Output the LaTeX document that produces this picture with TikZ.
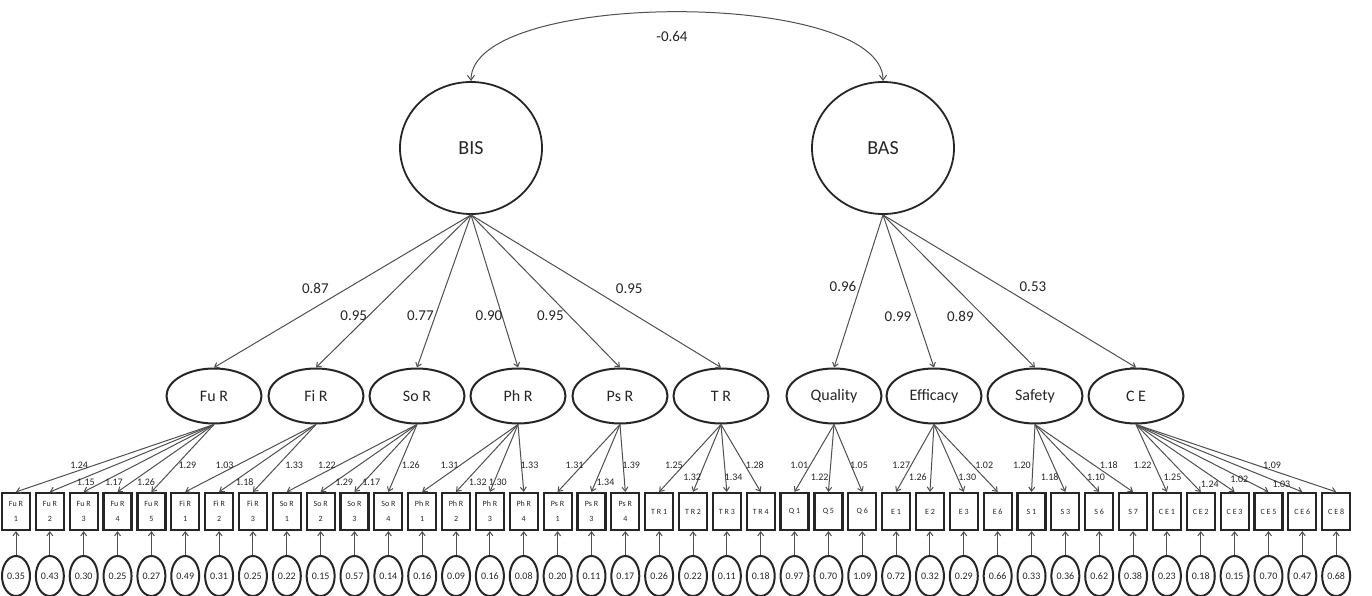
\documentclass[tikz,border=0pt]{standalone}
\usepackage{fontspec}
\setmainfont{Carlito}
\usetikzlibrary{arrows.meta,shapes.geometric}
\definecolor{ink}{HTML}{262626}
\definecolor{edge}{HTML}{505050}

\begin{document}
\begin{tikzpicture}[x=1pt, y=-1pt,
    latent/.style={draw=ink, ellipse, line width=1.8pt, minimum width=142pt,
                   minimum height=132pt, inner sep=0pt, text=ink,
                   font=\fontsize{20}{24}\selectfont},
    factor/.style={draw=ink, ellipse, line width=2pt, minimum width=95pt,
                   minimum height=55pt, inner sep=0pt, text=ink,
                   font=\fontsize{16}{19}\selectfont},
    item/.style={draw=ink, line width=2.2pt, minimum width=28pt,
                 minimum height=37pt, inner sep=0pt, align=center, text=ink,
                 font=\fontsize{8}{15}\selectfont},
    err/.style={draw=ink, ellipse, line width=2pt, minimum width=28pt,
                minimum height=40pt, inner sep=0pt, text=ink,
                font=\fontsize{10}{12}\selectfont},
    arr/.style={-{Straight Barb[length=4pt,width=6pt]}, draw=edge, line width=1pt},
    big/.style={text=ink, inner sep=1pt, font=\fontsize{15}{18}\selectfont},
    sml/.style={text=ink, inner sep=1pt, font=\fontsize{10}{12}\selectfont}
  ]
  \useasboundingbox[fill=white] (0,0) rectangle (1372,596);

  % Latent variables
  \node[latent] (bis) at (471,148) {BIS};
  \node[latent] (bas) at (883,148) {BAS};

  % First-order factors
  \node[factor] (fur)  at (214,396)  {Fu R};
  \node[factor] (fir)  at (316,396)  {Fi R};
  \node[factor] (sor)  at (417,396)  {So R};
  \node[factor] (phr)  at (518,396)  {Ph R};
  \node[factor] (psr)  at (620,396)  {Ps R};
  \node[factor] (tr)   at (721,396)  {T R};
  \node[factor] (qual) at (834,396)  {Quality};
  \node[factor] (effi) at (934,396)  {Efficacy};
  \node[factor] (safe) at (1035,396) {Safety};
  \node[factor] (ce)   at (1136,396) {C E};

  % Observed items
  \foreach \lab [count=\n from 0] in {Fu R\\1, Fu R\\2, Fu R\\3, Fu R\\4,
      Fu R\\5, Fi R\\1, Fi R\\2, Fi R\\3, So R\\1, So R\\2, So R\\3, So R\\4,
      Ph R\\1, Ph R\\2, Ph R\\3, Ph R\\4, Ps R\\1, Ps R\\3, Ps R\\4,
      T R 1, T R 2, T R 3, T R 4, Q 1, Q 5, Q 6, E 1, E 2, E 3, E 6,
      S 1, S 3, S 6, S 7, C E 1, C E 2, C E 3, C E 5, C E 6, C E 8}
    \node[item] (i\n) at ({16+33.85*\n},511.5) {\lab};

  % Error terms
  \foreach \v [count=\n from 0] in {0.35,0.43,0.30,0.25,0.27,0.49,0.31,0.25,
      0.22,0.15,0.57,0.14,0.16,0.09,0.16,0.08,0.20,0.11,0.17,0.26,0.22,0.11,
      0.18,0.97,0.70,1.09,0.72,0.32,0.29,0.66,0.33,0.36,0.62,0.38,0.23,0.18,
      0.15,0.70,0.47,0.68}
    {
      \node[err] (e\n) at ({16+33.85*\n},576) {\v};
      \draw[arr] (e\n) -- (i\n);
    }

  % Correlation BIS <-> BAS
  \draw[{Straight Barb[length=5pt,width=7pt]}-{Straight Barb[length=5pt,width=7pt]},
        draw=edge, line width=1pt]
    (bis.north) .. controls (471,-11) and (883,-11) .. (bas.north)
    node[big, pos=0.5, yshift=-24pt, xshift=-5pt]{-0.64};

  % Second-order loadings
  \foreach \f/\v/\t/\dx in {fur/0.87/0.485/-31, fir/0.95/0.66/-15,
      sor/0.77/0.66/-15, phr/0.90/0.66/-13, psr/0.95/0.66/-19,
      tr/0.95/0.485/37}
    \draw[arr] (bis.south) -- node[big, pos=\t, xshift=\dx]{\v} (\f.north);
  \foreach \f/\v/\t/\dx in {qual/0.96/0.47/-17, effi/0.99/0.667/-19,
      safe/0.89/0.667/-24, ce/0.53/0.47/31}
    \draw[arr] (bas.south) -- node[big, pos=\t, xshift=\dx]{\v} (\f.north);

  % Item loadings
  \foreach \f/\n/\v/\t/\dx in {fur/0/1.24/0.6/-16, fur/1/1.15/0.86/13,
      fur/2/1.17/0.86/12, fur/3/1.26/0.86/15, fur/4/1.29/0.6/11,
      fir/5/1.03/0.6/-13, fir/6/1.18/0.86/12, fir/7/1.33/0.6/16,
      sor/8/1.22/0.6/-12, sor/9/1.29/0.86/10, sor/10/1.17/0.86/8,
      sor/11/1.26/0.6/11,
      phr/12/1.31/0.6/-11, phr/13/1.32/0.86/13, phr/14/1.30/0.86/4,
      phr/15/1.33/0.6/8,
      psr/16/1.31/0.6/-8, psr/17/1.34/0.86/10, psr/18/1.39/0.6/8,
      tr/19/1.25/0.6/-10, tr/20/1.32/0.78/-7, tr/21/1.34/0.78/8,
      tr/22/1.28/0.6/10,
      qual/23/1.01/0.6/-11, qual/24/1.22/0.78/-10, qual/25/1.05/0.6/8,
      effi/26/1.27/0.6/-10, effi/27/1.26/0.78/-13, effi/28/1.30/0.78/10,
      effi/29/1.02/0.6/12,
      safe/30/1.20/0.6/-11, safe/31/1.18/0.78/-9, safe/32/1.10/0.78/11,
      safe/33/1.18/0.6/15,
      ce/34/1.22/0.6/-12, ce/35/1.25/0.78/-14, ce/36/1.24/0.88/-13,
      ce/37/1.02/0.81/-4, ce/38/1.03/0.88/-1, ce/39/1.09/0.6/16}
    \draw[arr] (\f.south) -- node[sml, pos=\t, xshift=\dx]{\v} (i\n.north);
\end{tikzpicture}
\end{document}
